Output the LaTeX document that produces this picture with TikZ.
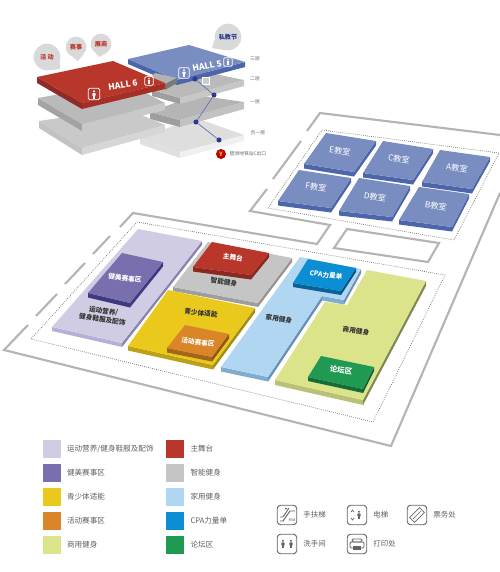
\documentclass[tikz,border=0pt]{standalone}
\usepackage{fontspec}
\setmainfont{Noto Sans CJK SC}
\usetikzlibrary{calc,positioning}
\definecolor{framegray}{RGB}{180,180,180}
\definecolor{iconline}{RGB}{100,100,100}
\definecolor{legtxt}{RGB}{95,95,95}
\definecolor{hallred}{RGB}{185,54,42}
\definecolor{redleft}{RGB}{143,42,42}
\definecolor{redright}{RGB}{165,47,38}
\definecolor{hallblue}{RGB}{122,141,193}
\definecolor{blueside}{RGB}{76,101,171}
\definecolor{lav}{RGB}{208,204,227}
\definecolor{lavfront}{RGB}{182,176,216}
\definecolor{lavright}{RGB}{140,130,175}
\definecolor{purp}{RGB}{122,111,174}
\definecolor{purpside}{RGB}{62,58,128}
\definecolor{yell}{RGB}{234,201,28}
\definecolor{oran}{RGB}{217,133,40}
\definecolor{lgreen}{RGB}{219,227,139}
\definecolor{stagegray}{RGB}{197,197,197}
\definecolor{lblue}{RGB}{176,214,242}
\definecolor{lbluefront}{RGB}{128,172,208}
\definecolor{lblueright}{RGB}{104,144,178}
\definecolor{cpablue}{RGB}{11,142,212}
\definecolor{forum}{RGB}{32,154,82}
\definecolor{dotblue}{RGB}{43,58,140}
% one side face below the edge a-b
\newcommand{\face}[4]{\fill[#1] (#2) -- (#3) -- ($(#3)+(0,#4)$) -- ($(#2)+(0,#4)$) -- cycle;}
% slab: front colour, right colour, top colour, thickness, back, right, front, left corner
\newcommand{\slab}[8]{%
  \face{#1}{#8}{#7}{#4}
  \face{#2}{#7}{#6}{#4}
  \fill[#3] (#5) -- (#6) -- (#7) -- (#8) -- cycle;}
\newcommand{\personmark}[3]{%
  \fill[#3] (#1,#2-3.2) circle (1.1);
  \fill[#3, rounded corners=0.5] (#1-1.7,#2-1.6) rectangle (#1+1.7,#2+1.4);
  \fill[#3] (#1-1,#2+1) rectangle (#1+1,#2+4);}
\begin{document}
\begin{tikzpicture}[
  x=0.75pt, y=-0.75pt,
  framing/.style={draw=framegray, line width=1.6pt, line join=miter},
  dotline/.style={draw=black!55, line width=0.55pt, densely dotted},
  floorlab/.style={font=\fontsize{5}{6.4}\selectfont\bfseries, rotate=-8, inner sep=0pt, text=black!80},
  floorwhite/.style={floorlab, text=white},
  room/.style={font=\fontsize{6.2}{7}\selectfont, rotate=-8, inner sep=0pt, text=white},
  hall/.style={font=\fontsize{6.4}{8}\selectfont\bfseries, inner sep=0pt, text=white},
  bubble/.style={circle, fill=black!15, inner sep=0pt, font=\fontsize{4.6}{6}\selectfont\bfseries},
  level/.style={font=\fontsize{3.6}{4}\selectfont, inner sep=0pt, text=black!60},
  liftbox/.style={draw=white, line width=0.6pt, rounded corners=1pt, inner sep=0pt},
  stopdot/.style={circle, fill=dotblue, inner sep=0pt, minimum size=3.8pt},
  swatch/.style={fill=#1, minimum size=13.5pt, inner sep=0pt},
  legtext/.style={font=\fontsize{5.7}{7}\selectfont, text=legtxt, inner sep=0pt, right=4.5pt of #1},
  iconbox/.style={draw=iconline, line width=0.7pt, rounded corners=2.5pt, minimum size=14.6pt, inner sep=0pt},
  icontext/.style={font=\fontsize{5.6}{7}\selectfont, text=legtxt, inner sep=0pt, right=4.5pt of #1}
]
\useasboundingbox (0,0) rectangle (500,572);
\clip (0,0) rectangle (500,572);

% floors of the small building
\slab{black!12}{black!6}{black!13}{6}{196,118}{244,135}{180,152}{140,138}
\slab{black!38}{black!24}{black!29}{7}{196,95}{244,102}{180,120}{150,112}
\slab{black!38}{black!22}{black!27}{6}{196,70}{244,80}{180,98}{152,90}
\slab{black!24}{black!16}{black!21}{7}{125,108}{165,125}{82,148}{39,121}
\slab{black!36}{black!21}{black!27}{7}{125,82}{165,103}{82,124}{38,98}
\slab{blueside}{blueside}{hallblue}{5}{189,45}{245,62}{177,80}{128,59}
\fill[black!30] (155,73) -- (177,78) -- (165,84) -- (150,78) -- cycle;
\fill[black!52] (165,84) -- (177,78) -- (177,83) -- (165,90) -- cycle;
\slab{redleft}{redright}{hallred}{6}{113,61}{165,83}{82,103}{37,77}

% call-outs
\node[bubble, minimum size=20pt, text=hallred] (huodong) at (47,57) {活 动};
\node[bubble, minimum size=15.5pt, text=hallred] (saishi) at (76,47) {赛事};
\node[bubble, minimum size=15.5pt, text=hallred] (zhanshang) at (101,44) {展商};
\node[bubble, minimum size=20pt, text=dotblue] (sijiao) at (228,37) {私教节};
\coordinate (huodongtip) at (60,69);
\coordinate (saishitip) at (78,61);
\coordinate (zhanshangtip) at (99,57);
\coordinate (sijiaotip) at (212,48);
\fill[black!15] (huodong.-20) -- (huodong.-80) -- (huodongtip) -- cycle;
\fill[black!15] (saishi.-45) -- (saishi.-110) -- (saishitip) -- cycle;
\fill[black!15] (zhanshang.-60) -- (zhanshang.-120) -- (zhanshangtip) -- cycle;
\fill[black!15] (sijiao.-170) -- (sijiao.-100) -- (sijiaotip) -- cycle;

\node[hall, rotate=9] (hallsix) at (123,85) {HALL 6};
\node[hall, rotate=11] (hallfive) at (207,66) {HALL 5};
\node[liftbox, minimum size=8.5pt] (liftA) at (94,94) {};
\node[liftbox, minimum size=6.5pt] (liftB) at (149,81) {};
\node[liftbox, minimum size=8pt] (liftC) at (184,73) {};
\node[liftbox, minimum size=6.5pt] (liftD) at (228,62) {};
\node[draw=white, fill=black!20, minimum size=5pt, inner sep=0pt] (liftE) at (206,81) {};
\personmark{94}{94.5}{white}
\begin{scope}[shift={(149,81)}, scale=0.7]\personmark{0}{0}{white}\end{scope}
\begin{scope}[shift={(184,73)}, scale=0.9]\personmark{0}{0}{white}\end{scope}
\begin{scope}[shift={(228,62)}, scale=0.7]\personmark{0}{0}{white}\end{scope}

\node[stopdot] (stopA) at (195,79) {};
\node[stopdot] (stopB) at (214,95) {};
\node[stopdot] (stopC) at (196,122) {};
\node[stopdot] (stopD) at (219,140) {};
\draw[dotblue!75, line width=0.5pt] (stopA) -- (stopB) -- (stopC) -- (stopD);
\node[circle, fill=red!75!black, minimum size=7.5pt, inner sep=0pt, text=yell,
  font=\fontsize{4.5}{5}\selectfont\bfseries] (metro) at (221,154) {Y};
\node[level, right=2.3pt of metro] (metrotext) {琶洲地铁站C出口};
\node[level] (floorthree) at (255,59) {三层};
\node[level] (floortwo) at (255,79) {二层};
\node[level] (floorone) at (255,102) {一层};
\node[level] (floorneg) at (258,133) {负一层};

% walls
\draw[framing] (307,131) -- (320,113) -- (500,135);
\draw[framing] (273,179) -- (301,141);
\draw[framing] (267,189) -- (250,211) -- (330,225) -- (317,244) -- (133,213) -- (120,227);
\draw[framing] (110,236) -- (93,254);
\draw[framing] (85,263) -- (65,284);
\draw[framing] (57,294) -- (36,316);
\draw[framing] (28,325) -- (4,350) -- (391,446) -- (500,193);
\draw[framing] (347,229) -- (439,243) -- (428,262) -- (334,248) -- cycle;
\draw[dotline] (322,130) -- (499,153) -- (454,240) -- (268,208) -- cycle;
\draw[dotline] (137,222) -- (445,275) -- (373,422) -- (31,339) -- cycle;

% class rooms
\slab{blueside}{blueside}{hallblue}{4.5}{326,133}{376,141}{354,172}{304,164}
\slab{blueside}{blueside}{hallblue}{4.5}{383,141}{433,149}{413,180}{363,173}
\slab{blueside}{blueside}{hallblue}{4.5}{440,150}{490,157}{472,189}{422,182}
\slab{blueside}{blueside}{hallblue}{4.5}{299,170}{351,178}{331,208}{278,201}
\slab{blueside}{blueside}{hallblue}{4.5}{359,178}{410,186}{392,217}{339,211}
\slab{blueside}{blueside}{hallblue}{4.5}{419,187}{469,194}{452,227}{399,220}
\node[room] (roomE) at (340,151) {E教室};
\node[room] (roomC) at (399,159) {C教室};
\node[room] (roomA) at (457,168) {A教室};
\node[room] (roomF) at (316,187) {F教室};
\node[room] (roomD) at (375,197) {D教室};
\node[room] (roomB) at (436,206) {B教室};

% zones
\slab{lavfront}{lavright}{lav}{4}{138,229}{202,241}{122,343}{52,327}
\slab{purpside}{purpside}{purp}{4.5}{122,253}{163,262}{130,303}{88,293}
\slab{stagegray!80!black}{stagegray!75!black}{stagegray}{4}{208,242}{292,258}{258,303}{173,287}
\slab{hallred!75!black}{hallred!75!black}{hallred}{4.5}{212,242}{269,253}{251,275}{193,267}
\slab{yell!80!black}{yell!70!black}{yell}{4.5}{168,290}{255,308}{213,365}{128,346}
\slab{oran!75!black}{oran!65!black}{oran}{4.5}{185,325}{229,334}{212,357}{167,348}
% family zone has a notch
\face{lbluefront}{221,367}{268,377}{4.5}
\face{lblueright}{268,377}{322,296}{4.5}
\face{lbluefront}{322,296}{344,300}{4.5}
\face{lblueright}{344,300}{361,269}{4.5}
\fill[lblue] (300,257) -- (361,269) -- (344,300) -- (322,296) -- (268,377) -- (221,367) -- cycle;
\slab{cpablue!70!black}{cpablue!60!black}{cpablue}{4}{308,259}{356,268}{341,291}{293,283}
% commercial zone
\face{lgreen!85!black}{275,380}{363,400}{5}
\face{lgreen!60!black}{363,400}{426,281}{5}
\fill[lgreen] (367,270) -- (426,281) -- (363,400) -- (275,380) -- (325,302) -- (347,305) -- cycle;
\slab{forum!70!black}{forum!60!black}{forum}{4}{321,356}{374,367}{363,389}{308,377}

\node[floorwhite] (zoneA) at (125,278) {健美赛事区};
\node[floorlab, align=center] (zoneB) at (103,315) {运动营养/\\健身鞋服及配饰};
\node[floorwhite] (zoneC) at (233,257) {主舞台};
\node[floorlab] (zoneD) at (224,282) {智能健身};
\node[floorlab] (zoneE) at (201,313) {青少体适能};
\node[floorwhite] (zoneF) at (198,342) {活动赛事区};
\node[floorlab] (zoneG) at (279,319) {家用健身};
\node[floorwhite] (zoneH) at (326,275) {CPA力量单};
\node[floorlab] (zoneI) at (356,331) {商用健身};
\node[floorwhite, font=\fontsize{5.6}{6}\selectfont\bfseries] (zoneJ) at (341,370) {论坛区};

% legend
\node[swatch=lav] (swA) at (51.5,449) {};
\node[swatch=purp] (swB) at (51.5,473) {};
\node[swatch=yell] (swC) at (51.5,497) {};
\node[swatch=oran] (swD) at (51.5,521) {};
\node[swatch=lgreen] (swE) at (51.5,545) {};
\node[swatch=hallred] (swF) at (175,449) {};
\node[swatch=stagegray] (swG) at (175,473) {};
\node[swatch=lblue] (swH) at (175,497) {};
\node[swatch=cpablue] (swI) at (175,521) {};
\node[swatch=forum] (swJ) at (175,545) {};
\node[legtext=swA] (txtA) {运动营养/健身鞋服及配饰};
\node[legtext=swB] (txtB) {健美赛事区};
\node[legtext=swC] (txtC) {青少体适能};
\node[legtext=swD] (txtD) {活动赛事区};
\node[legtext=swE] (txtE) {商用健身};
\node[legtext=swF] (txtF) {主舞台};
\node[legtext=swG] (txtG) {智能健身};
\node[legtext=swH] (txtH) {家用健身};
\node[legtext=swI] (txtI) {CPA力量单};
\node[legtext=swJ] (txtJ) {论坛区};

% service icons
\node[iconbox] (escal) at (287,515) {};
\node[iconbox] (lift) at (357,515) {};
\node[iconbox] (ticket) at (417,515) {};
\node[iconbox] (wc) at (287,544) {};
\node[iconbox] (printer) at (357,544) {};
\node[icontext=escal] (txtescal) {手扶梯};
\node[icontext=lift] (txtlift) {电梯};
\node[icontext=ticket] (txtticket) {票务处};
\node[icontext=wc] (txtwc) {洗手间};
\node[icontext=printer] (txtprinter) {打印处};
\draw[iconline, line width=0.7pt, line join=round] (280,521) -- (283,521) -- (290,511) -- (295,511);
\draw[iconline, line width=0.7pt, line join=round] (280,517) -- (283,517) -- (289,508);
\fill[iconline] (286,508.5) circle (1);
\node[font=\fontsize{3}{3}\selectfont\itshape, text=iconline, inner sep=0pt] (escaltag) at (292,520) {Mid};
\personmark{359}{515}{iconline}
\draw[iconline, line width=0.5pt] (351,512) -- (352.5,510) -- (354,512) (351,518) -- (352.5,520) -- (354,518);
\draw[iconline, line width=0.5pt, rotate around={45:(417,515)}] (410,511.5) rectangle (424,518.5);
\draw[iconline, line width=0.5pt] (413,519) -- (421,511);
\personmark{283}{544}{iconline}
\personmark{291}{544}{iconline}
\draw[iconline, line width=0.7pt, rounded corners=1pt] (352,539) rectangle (362,542);
\draw[iconline, line width=0.7pt, rounded corners=1pt] (350,542) rectangle (364,548);
\fill[iconline] (353,546) rectangle (361,550);
\end{tikzpicture}
\end{document}
